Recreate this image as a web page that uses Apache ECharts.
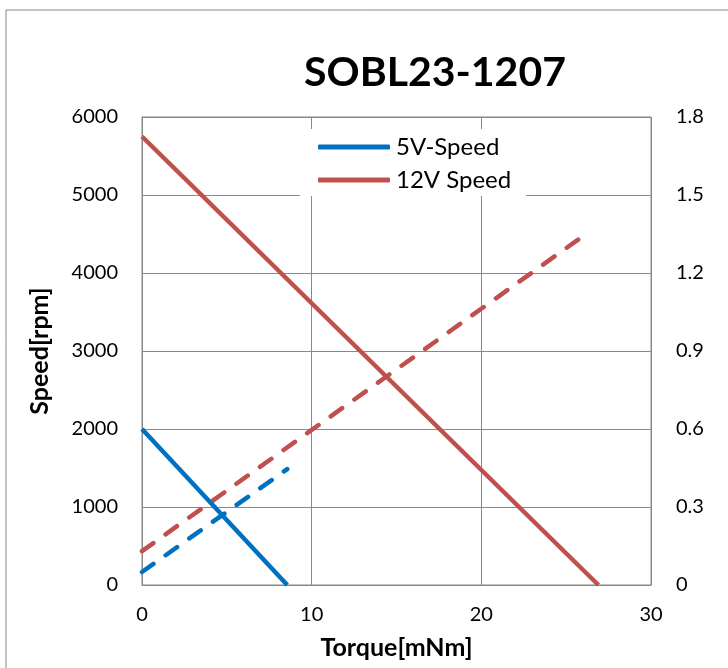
<!DOCTYPE html>
<html>
<head>
<meta charset="utf-8">
<script src="https://cdn.jsdelivr.net/npm/echarts@6/dist/echarts.min.js"></script>
<style>
  html, body { margin: 0; padding: 0; background: #fff; }
  #chart { width: 728px; height: 668px; }
</style>
</head>
<body>
<div id="chart"></div>
<script>
// torque [mNm] vs speed [rpm] (left axis) and current (right axis)
const speed5V = [[0, 2000], [8.56, 0]]
const speed12V = [[0, 5750], [26.9, 0]]
const current5V = [[0, 0.05], [8.56, 0.446]]
const current12V = [[0, 0.13], [26.1, 1.347]]

const xTicks = [0, 10, 20, 30]
const leftTicks = [0, 1000, 2000, 3000, 4000, 5000, 6000]
const rightTicks = [0, 0.3, 0.6, 0.9, 1.2, 1.5, 1.8]

const FONT = 'Lato, "Open Sans", sans-serif'
const BLUE = '#0070c0'
const RED = '#c0504d'

const chart = echarts.init(document.getElementById('chart'))

chart.setOption({
  backgroundColor: '#fff',
  animation: false,
  textStyle: { fontFamily: FONT },
  title: {
    text: 'SOBL23-1207',
    left: 430,
    top: 47,
    textAlign: 'center',
    textStyle: { fontFamily: FONT, fontSize: 41, fontWeight: 'bold', color: '#000' },
  },
  graphic: [
    {
      type: 'rect',
      shape: { x: 6, y: 10, width: 740, height: 700 },
      style: { fill: 'none', stroke: '#888', lineWidth: 1 },
      silent: true,
    },
  ],
  legend: {
    data: ['5V-Speed', '12V Speed'],
    orient: 'vertical',
    left: 300,
    top: 129,
    icon: 'roundRect',
    itemWidth: 72,
    itemHeight: 5,
    itemGap: 9,
    padding: [6, 15, 4, 18],
    backgroundColor: '#fff',
    textStyle: { fontFamily: FONT, fontSize: 24, color: '#000', padding: [0, 0, 0, 1] },
  },
  grid: { left: 142, right: 77, top: 117, bottom: 83, show: true, borderColor: '#888', borderWidth: 1 },
  xAxis: {
    type: 'value',
    min: xTicks[0],
    max: xTicks[xTicks.length - 1],
    interval: 10,
    name: 'Torque[mNm]',
    nameLocation: 'middle',
    nameGap: 50,
    nameTextStyle: { fontFamily: FONT, fontSize: 25, fontWeight: 'bold', color: '#000' },
    axisLine: { show: true, lineStyle: { color: '#888' } },
    axisTick: { show: false },
    axisLabel: { fontFamily: FONT, fontSize: 20, color: '#000', margin: 20 },
    splitLine: { lineStyle: { color: '#888', width: 1 } },
  },
  yAxis: [
    {
      type: 'value',
      min: leftTicks[0],
      max: leftTicks[leftTicks.length - 1],
      interval: 1000,
      name: 'Speed[rpm]',
      nameLocation: 'middle',
      nameGap: 90,
      nameTextStyle: { fontFamily: FONT, fontSize: 25, fontWeight: 'bold', color: '#000' },
      axisLine: { show: true, lineStyle: { color: '#888' } },
      axisTick: { show: false },
      axisLabel: { fontFamily: FONT, fontSize: 20, color: '#000', margin: 24, formatter: v => String(v) },
      splitLine: { lineStyle: { color: '#888', width: 1 } },
    },
    {
      type: 'value',
      position: 'right',
      min: rightTicks[0],
      max: rightTicks[rightTicks.length - 1],
      interval: 0.3,
      axisLine: { show: false },
      axisTick: { show: false },
      axisLabel: {
        fontFamily: FONT, fontSize: 20, color: '#000', margin: 25,
        formatter: v => rightTicks.find(t => Math.abs(t - v) < 1e-6)?.toString() ?? '',
      },
      splitLine: { show: false },
    },
  ],
  series: [
    {
      name: '5V-Speed',
      type: 'line',
      data: speed5V,
      symbol: 'none',
      itemStyle: { color: BLUE },
      lineStyle: { color: BLUE, width: 4.5 },
      z: 3,
    },
    {
      name: '12V Speed',
      type: 'line',
      data: speed12V,
      symbol: 'none',
      itemStyle: { color: RED },
      lineStyle: { color: RED, width: 4.5 },
      z: 3,
    },
    {
      name: '5V-Current',
      type: 'line',
      yAxisIndex: 1,
      data: current5V,
      symbol: 'none',
      lineStyle: { color: BLUE, width: 4.5, type: [14, 15], cap: 'round' },
      z: 2,
    },
    {
      name: '12V Current',
      type: 'line',
      yAxisIndex: 1,
      data: current12V,
      symbol: 'none',
      lineStyle: { color: RED, width: 4.5, type: [14, 15], cap: 'round' },
      z: 2,
    },
  ],
})
</script>
</body>
</html>
